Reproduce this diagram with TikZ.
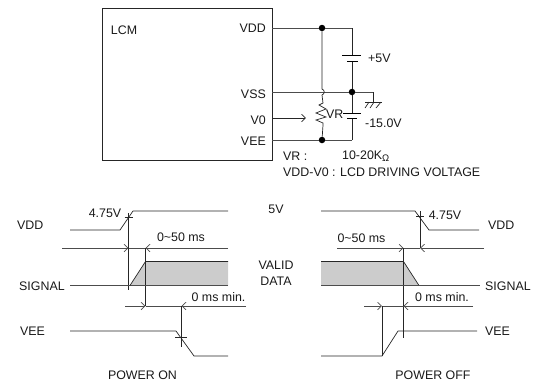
\documentclass[tikz,border=0pt]{standalone}
\usepackage{fontspec}
\setmainfont{Liberation Sans}
\usetikzlibrary{arrows.meta}
\tikzset{
  x=1pt,y=-1pt,
  wire/.style={line width=0.7pt,draw=black!85},
  rail/.style={line width=0.8pt,draw=black!70},
  lbl/.style={inner sep=0pt,font=\fontsize{12.4}{14}\selectfont,text=black!90},
  dot/.style={circle,fill=black,inner sep=0pt,minimum size=6.5pt},
  openhead/.style={-{Straight Barb[length=4pt,width=7.5pt,line width=0.7pt]}},
  sigfill/.style={fill=black!20,draw=none}
}
\begin{document}
\begin{tikzpicture}
\useasboundingbox (0,0) rectangle (543,384);
% LCM block
\draw[wire] (102,8) rectangle (272,160);
\node[lbl] (lcm) at (124,30) {LCM};
\coordinate (pdd) at (272,28);
\coordinate (pss) at (272,92);
\coordinate (pv0) at (272,118);
\coordinate (pee) at (272,140);
\node[lbl,anchor=east] (lvdd) at (266,28.5) {VDD};
\node[lbl,anchor=east] (lvss) at (266,94) {VSS};
\node[lbl,anchor=east] (lv0) at (266,120.5) {V0};
\node[lbl,anchor=east] (lvee) at (266,141) {VEE};
\node[dot] (j1) at (322,28) {};
\node[dot] (j2) at (352,92) {};
\node[dot] (j3) at (322,140) {};
\coordinate (cdd) at (352,28);
\coordinate (cee) at (352,140);
\coordinate (gnd) at (373,92);
\coordinate (gnd2) at (373,102);
\draw[rail] (pdd) -- (j1) -- (cdd);
\draw[rail] (pss) -- (j2) -- (gnd);
\draw[rail] (pee) -- (j3) -- (cee);
% wire with hop and pot
\coordinate (r1) at (323,103);
\coordinate (r2) at (323,125);
\draw[wire] (j1) -- (322,89) .. controls (325,90) and (325,94) .. (322,95) -- (r1)
  -- (319,105) -- (326,109) -- (316,113) -- (326,117) -- (316,120) -- (323,123) -- (r2) -- (j3);
\draw[wire,openhead] (pv0) -- (306,118);
\node[lbl,anchor=west] (lvr) at (326,114.5) {VR};
% supplies
\coordinate (b1) at (352,55);
\coordinate (b2) at (352,61);
\coordinate (b3) at (352,113);
\coordinate (b4) at (352,118);
\draw[wire] (cdd) -- (b1);
\draw[wire] (b2) -- (j2) -- (b3);
\draw[wire] (b4) -- (cee);
\draw[line width=0.9pt] (342,55) -- (361,55);
\draw[line width=0.9pt] (347,61) -- (358,61);
\draw[line width=0.9pt] (343,113) -- (361,113);
\draw[line width=0.9pt] (347,118) -- (357,118);
\node[lbl,anchor=west] (l5v) at (368,58.5) {+5V};
\node[lbl,anchor=west] (l15) at (365,123.5) {-15.0V};
% ground
\draw[wire] (gnd) -- (gnd2);
\draw[wire] (365,102) -- (382,102);
\draw[wire] (369,102) -- (365,108) (374,102) -- (370,108) (381,102) -- (376,108);
% notes
\node[lbl,anchor=west] (nvr) at (283,156) {VR :};
\node[lbl,anchor=west] (nval) at (342,156.5) {10-20K\raisebox{-2pt}{\fontsize{9.5}{10}\selectfont Ω}};
\node[lbl,anchor=west] (nvdd) at (283,172.5) {VDD-V0 : LCD DRIVING VOLTAGE};
% center labels
\node[lbl] (c5v) at (276,209) {5V};
\node[lbl] (cva) at (276,265) {VALID};
\node[lbl] (cda) at (276,281) {DATA};
% ---------- POWER ON
\fill[sigfill] (130,285.5) -- (145.5,261.5) -- (228,261.5) -- (228,285.5) -- cycle;
\coordinate (a1) at (70,230); \coordinate (a2) at (120,230);
\coordinate (a3) at (133,211); \coordinate (a4) at (228,211);
\draw[wire] (a1) -- (a2) -- (a3) -- (a4);
\coordinate (v1t) at (128.5,213); \coordinate (v1b) at (128.5,290);
\draw[wire] (v1t) -- (v1b);
\draw[wire] (124.5,217) -- (133,217);
\coordinate (d1a) at (62,248); \coordinate (d1b) at (128.5,248);
\coordinate (d1c) at (228,248); \coordinate (d1d) at (145.5,248);
\draw[rail] (d1b) -- (d1d);
\draw[rail,openhead] (d1a) -- (d1b);
\draw[rail,openhead] (d1c) -- (d1d);
\coordinate (v2b) at (145.5,306);
\draw[wire] (d1d) -- (v2b);
\coordinate (s1) at (70,285.5); \coordinate (s2) at (130,285.5);
\coordinate (s3) at (145.5,261.5); \coordinate (s4) at (228,261.5); \coordinate (s5) at (228,285.5);
\draw[rail] (s1) -- (s5);
\draw[wire] (s2) -- (s3) -- (s4);
\coordinate (d2a) at (125,306); \coordinate (d2c) at (246,306); \coordinate (d2d) at (181.5,306);
\draw[rail] (v2b) -- (d2d);
\draw[rail,openhead] (d2a) -- (v2b);
\draw[rail,openhead] (d2c) -- (d2d);
\coordinate (v3b) at (181.5,347);
\draw[wire] (d2d) -- (v3b);
\coordinate (e1) at (70,331); \coordinate (e2) at (176,331);
\coordinate (e3) at (194,356); \coordinate (e4) at (228,356);
\draw[wire] (e1) -- (e2) -- (e3) -- (e4);
\draw[wire] (175,337) -- (187,337);
\node[lbl] (tv1) at (105,213.5) {4.75V};
\node[lbl] (tt1) at (181,237.5) {0\char`~50 ms};
\node[lbl] (tm1) at (218.5,297) {0 ms min.};
\node[lbl,anchor=west] (tvdd1) at (17,225) {VDD};
\node[lbl,anchor=west] (tsig1) at (19,286) {SIGNAL};
\node[lbl,anchor=west] (tvee1) at (20,331) {VEE};
\node[lbl] (pon) at (142.5,375) {POWER ON};
% ---------- POWER OFF
\fill[sigfill] (321,261.5) -- (403.5,261.5) -- (419,285.5) -- (321,285.5) -- cycle;
\coordinate (f1) at (321,211); \coordinate (f2) at (415,211);
\coordinate (f3) at (429,230); \coordinate (f4) at (479,230);
\draw[wire] (f1) -- (f2) -- (f3) -- (f4);
\coordinate (w1t) at (420,211);
\coordinate (w1b) at (420,248);
\draw[wire] (w1t) -- (w1b);
\draw[wire] (416,216) -- (424,216);
\coordinate (g1a) at (337,248); \coordinate (g1b) at (403.5,248); \coordinate (g1c) at (484,248);
\draw[rail] (g1b) -- (w1b);
\draw[rail,openhead] (g1a) -- (g1b);
\draw[rail,openhead] (g1c) -- (w1b);
\coordinate (w2b) at (403.5,338);
\draw[wire] (g1b) -- (w2b);
\coordinate (k1) at (321,261.5); \coordinate (k2) at (403.5,261.5); \coordinate (k3) at (419,285.5);
\coordinate (k4) at (321,285.5); \coordinate (k5) at (480,285.5);
\draw[wire] (k1) -- (k2) -- (k3);
\draw[rail] (k4) -- (k5);
\coordinate (g2a) at (364,306); \coordinate (g2b) at (382,306); \coordinate (g2c) at (473,306); \coordinate (g2d) at (403.5,306);
\draw[rail] (g2b) -- (g2d);
\draw[rail,openhead] (g2a) -- (g2b);
\draw[rail,openhead] (g2c) -- (g2d);
\coordinate (w3b) at (382,356);
\draw[wire] (g2b) -- (w3b);
\coordinate (h1) at (321,356); \coordinate (h3) at (398,331); \coordinate (h4) at (477,331);
\draw[wire] (h1) -- (w3b) -- (h3) -- (h4);
\node[lbl] (tv2) at (445,215) {4.75V};
\node[lbl] (tt2) at (361.5,238) {0\char`~50 ms};
\node[lbl] (tm2) at (442,297) {0 ms min.};
\node[lbl,anchor=west] (tvdd2) at (488,225) {VDD};
\node[lbl,anchor=west] (tsig2) at (485,286) {SIGNAL};
\node[lbl,anchor=west] (tvee2) at (485,331) {VEE};
\node[lbl] (poff) at (433,375) {POWER OFF};
\end{tikzpicture}
\end{document}
